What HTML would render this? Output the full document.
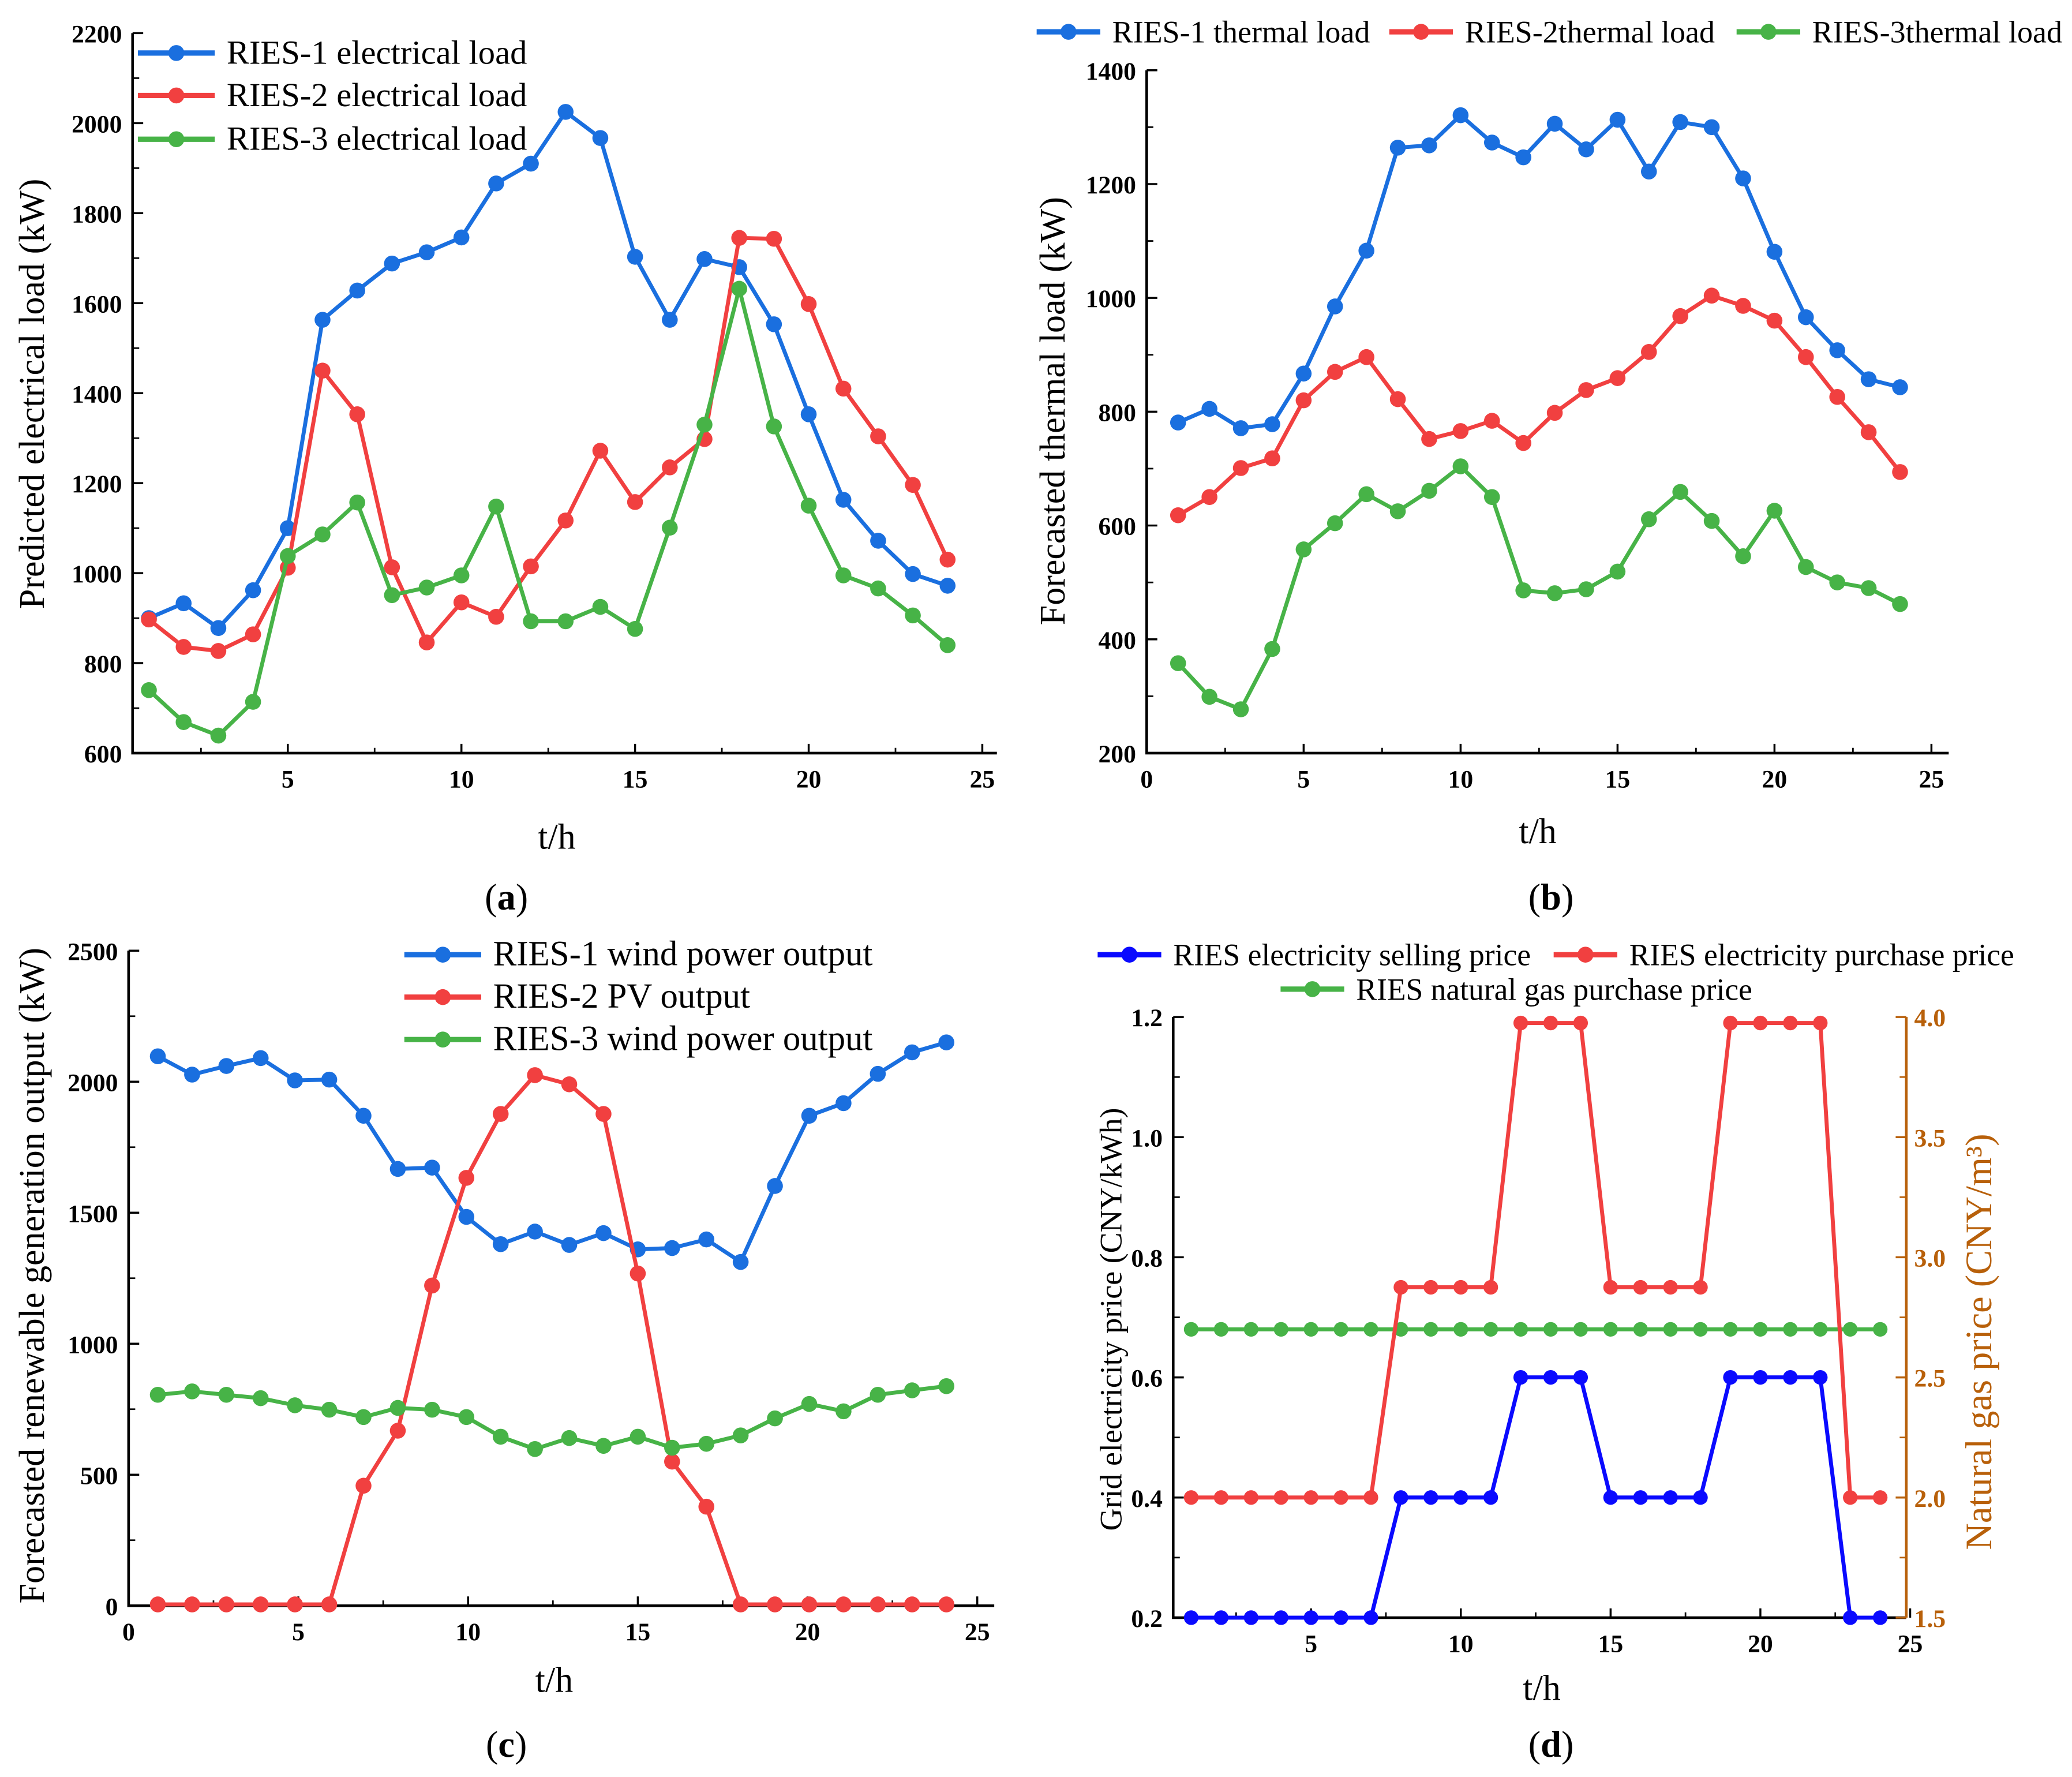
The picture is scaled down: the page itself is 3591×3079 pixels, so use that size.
<!DOCTYPE html>
<html><head><meta charset="utf-8"><style>
html,body{margin:0;padding:0;background:#fff}
svg,svg text{font-family:"Liberation Serif","DejaVu Serif","Times New Roman",serif}
.tk{font-weight:bold;font-size:19px}
.lab{font-size:27px}
.cap{font-size:28px}
</style></head><body>
<svg id="fig" width="3591" height="3074" viewBox="0 0 1563 1338" xmlns="http://www.w3.org/2000/svg" font-family="Liberation Serif, DejaVu Serif, serif">
<g id="root"></g>
</svg>
<script>
const hours=[1,2,3,4,5,6,7,8,9,10,11,12,13,14,15,16,17,18,19,20,21,22,23,24];
const elecR1=[900,933,878,962,1100,1563,1628,1688,1713,1746,1866,1910,2025,1967,1703,1563,1698,1680,1553,1353,1163,1072,998,972];
const elecR2=[897,836,827,864,1012,1450,1353,1013,846,935,903,1015,1117,1272,1158,1235,1298,1745,1743,1598,1410,1304,1196,1030];
const elecR3=[740,669,639,714,1038,1086,1157,951,968,995,1148,893,893,925,876,1101,1330,1632,1326,1150,995,966,906,840];
const thermR1=[781,805,771,778,867,985,1083,1264,1268,1321,1273,1247,1306,1261,1313,1222,1309,1300,1210,1081,966,908,857,843];
const thermR2=[618,650,701,718,820,870,896,822,752,766,784,745,798,838,859,905,968,1004,986,960,896,826,764,694];
const thermR3=[358,299,277,383,558,604,655,625,661,704,650,486,481,488,519,611,659,608,546,626,527,500,490,462];
const hoursC=[0.86,1.87,2.88,3.89,4.9,5.91,6.92,7.93,8.94,9.95,10.96,11.97,12.98,13.99,15,16.01,17.02,18.03,19.04,20.05,21.06,22.07,23.08,24.09];
const windR1=[2097,2027,2060,2090,2005,2008,1870,1667,1672,1484,1380,1428,1377,1422,1360,1365,1398,1312,1602,1870,1918,2030,2112,2150];
const pvR2=[5,5,5,5,5,5,458,668,1222,1633,1877,2025,1990,1877,1268,550,378,5,5,5,5,5,5,5];
const windR3=[805,818,805,792,765,748,720,755,748,720,645,598,640,610,645,603,618,650,715,770,742,805,822,838];
const sellPrice=[0.2,0.2,0.2,0.2,0.2,0.2,0.2,0.4,0.4,0.4,0.4,0.6,0.6,0.6,0.4,0.4,0.4,0.4,0.6,0.6,0.6,0.6,0.2,0.2];
const buyPrice=[0.4,0.4,0.4,0.4,0.4,0.4,0.4,0.75,0.75,0.75,0.75,1.19,1.19,1.19,0.75,0.75,0.75,0.75,1.19,1.19,1.19,1.19,0.4,0.4];
const gasPrice=[2.7,2.7,2.7,2.7,2.7,2.7,2.7,2.7,2.7,2.7,2.7,2.7,2.7,2.7,2.7,2.7,2.7,2.7,2.7,2.7,2.7,2.7,2.7,2.7];
const xTicksA=[5,10,15,20,25];
const xTicks0=[0,5,10,15,20,25];
const yTicksA=[600,800,1000,1200,1400,1600,1800,2000,2200];
const yTicksB=[200,400,600,800,1000,1200,1400];
const yTicksC=[0,500,1000,1500,2000,2500];
const yTicksD=[0.2,0.4,0.6,0.8,1.0,1.2];
const yTicksDR=[1.5,2.0,2.5,3.0,3.5,4.0];

const NS="http://www.w3.org/2000/svg";
const root=document.getElementById('root');
const FF="Liberation Serif, DejaVu Serif, serif";
function mk(tag,attrs,parent){const e=document.createElementNS(NS,tag);for(const k in attrs)e.setAttribute(k,attrs[k]);(parent||root).appendChild(e);return e;}
function txt(s,attrs,parent){attrs['font-family']=FF;const e=mk('text',attrs,parent);e.textContent=s;return e;}
const BLUE='#1a6fdf',RED='#f14040',GREEN='#47b347',DBLUE='#0a0aff',ORANGE='#b8600a';

function panel(name,box,xd,yd,xticks,yticks,minorX,minorY,fmt){
  const g=mk('g',{});
  
  
  const sx=v=>box.l+(v-xd[0])/(xd[1]-xd[0])*(box.r-box.l);
  const sy=v=>box.b-(v-yd[0])/(yd[1]-yd[0])*(box.b-box.t);
  const ax=mk('path',{d:`M${box.l},${box.t}V${box.b}H${box.r}`,fill:'none',stroke:'#000','stroke-width':2},g);
  
  
  xticks.forEach(v=>{const x=sx(v);mk('line',{x1:x,x2:x,y1:box.b,y2:box.b-7,stroke:'#000','stroke-width':1.5},g);
    const t=txt(String(v),{x:x,y:box.b+26,'text-anchor':'middle',class:'tk'},g);
    
    });
  minorX.forEach(v=>{const x=sx(v);mk('line',{x1:x,x2:x,y1:box.b,y2:box.b-4,stroke:'#000','stroke-width':1.2},g);});
  yticks.forEach(v=>{const y=sy(v);mk('line',{x1:box.l,x2:box.l+8,y1:y,y2:y,stroke:'#000','stroke-width':1.5},g);
    const t=txt(fmt?v.toFixed(1):String(v),{x:box.l-8,y:y+7,'text-anchor':'end',class:'tk'},g);
    
    });
  minorY.forEach(v=>{const y=sy(v);mk('line',{x1:box.l,x2:box.l+5,y1:y,y2:y,stroke:'#000','stroke-width':1.2},g);});
  return {g,sx,sy};
}
function series(p,xs,ys,color,name,r,sw,syf){
  const s=syf||p.sy;
  const pts=xs.map((x,i)=>p.sx(x)+','+s(ys[i])).join(' ');
  const l=mk('polyline',{points:pts,fill:'none',stroke:color,'stroke-width':sw||3,'stroke-linejoin':'round'},p.g);
  
  
  xs.forEach((x,i)=>{const c=mk('circle',{cx:p.sx(x),cy:s(ys[i]),r:r||6,fill:color},p.g);
    
    });
}
function legend(x,y,color,label,name,w,fs){
  const g=mk('g',{});
  
  
  w=w||58;
  mk('line',{x1:x,x2:x+w,y1:y,y2:y,stroke:color,'stroke-width':4},g);
  mk('circle',{cx:x+w/2,cy:y,r:6,fill:color},g);
  txt(label,{x:x+w+9,y:y+8,'font-size':fs},g);
}
function cap(letter,x,y){
  const t=txt('',{x:x,y:y,'text-anchor':'middle',class:'cap'});
  
  
  const a=mk('tspan',{},t);a.textContent='(';
  const b=mk('tspan',{'font-weight':'bold'},t);b.textContent=letter;
  const c=mk('tspan',{},t);c.textContent=')';
}
function range(a,b,s){const r=[];for(let v=a;v<=b+1e-9;v+=s)r.push(+v.toFixed(4));return r;}

// Panel a
const pa=panel('panel-a',{l:100,r:752,t:25,b:568},[0.53,25.42],[600,2200],xTicksA,yTicksA,range(2.5,22.5,5),range(700,2100,200));
series(pa,hours,elecR1,BLUE,'ries1-electrical');
series(pa,hours,elecR2,RED,'ries2-electrical');
series(pa,hours,elecR3,GREEN,'ries3-electrical');
legend(104,40,BLUE,'RIES-1 electrical load','legend-ries1-electrical',58,25.5);
legend(104,72,RED,'RIES-2 electrical load','legend-ries2-electrical',58,25.5);
legend(104,105,GREEN,'RIES-3 electrical load','legend-ries3-electrical',58,25.5);
txt('Predicted electrical load (kW)',{transform:'translate(33,297) rotate(-90)','text-anchor':'middle',class:'lab'});
txt('t/h',{x:420,y:640,'text-anchor':'middle',class:'lab'});
cap('a',382,686);

// Panel b
const pb=panel('panel-b',{l:865,r:1470,t:53,b:568},[0,25.55],[200,1400],xTicks0,yTicksB,range(2.5,22.5,5),range(300,1300,200));
series(pb,hours,thermR1,BLUE,'ries1-thermal');
series(pb,hours,thermR2,RED,'ries2-thermal');
series(pb,hours,thermR3,GREEN,'ries3-thermal');
legend(782,24,BLUE,'RIES-1 thermal load','legend-ries1-thermal',48,23.5);
legend(1048,24,RED,'RIES-2thermal load','legend-ries2-thermal',48,23.5);
legend(1310,24,GREEN,'RIES-3thermal load','legend-ries3-thermal',48,23.5);
txt('Forecasted thermal load (kW)',{transform:'translate(803,310) rotate(-90)','text-anchor':'middle',class:'lab'});
txt('t/h',{x:1160,y:636,'text-anchor':'middle',class:'lab'});
cap('b',1170,686);

// Panel c
const pc=panel('panel-c',{l:97,r:750,t:717,b:1211},[0,25.5],[0,2500],xTicks0,yTicksC,range(2.5,22.5,5),range(250,2250,500));
series(pc,hoursC,windR1,BLUE,'ries1-wind');
series(pc,hoursC,pvR2,RED,'ries2-pv');
series(pc,hoursC,windR3,GREEN,'ries3-wind');
legend(305,720,BLUE,'RIES-1 wind power output','legend-ries1-wind',58,26.5);
legend(305,752,RED,'RIES-2 PV output','legend-ries2-pv',58,26.5);
legend(305,784,GREEN,'RIES-3 wind power output','legend-ries3-wind',58,26.5);
txt('Forecasted renewable generation output (kW)',{transform:'translate(33,962) rotate(-90)','text-anchor':'middle',class:'lab'});
txt('t/h',{x:418,y:1276,'text-anchor':'middle',class:'lab'});
cap('c',382,1325);

// Panel d
const pd=panel('panel-d',{l:885,r:1438,t:767,b:1220},[0.4,24.87],[0.2,1.2],xTicksA,yTicksD,range(2.5,22.5,5),range(0.3,1.1,0.2),true);
const syR=v=>1220-(v-1.5)/2.5*453;
mk('line',{x1:1438,x2:1438,y1:767,y2:1220,stroke:ORANGE,'stroke-width':2},pd.g);
yTicksDR.forEach(v=>{const y=syR(v);mk('line',{x1:1430,x2:1438,y1:y,y2:y,stroke:ORANGE,'stroke-width':1.5},pd.g);
  const t=txt(v.toFixed(1),{x:1444,y:y+7,class:'tk',fill:ORANGE},pd.g);
  
  });
range(1.75,3.75,0.5).forEach(v=>{const y=syR(v);mk('line',{x1:1433,x2:1438,y1:y,y2:y,stroke:ORANGE,'stroke-width':1.2},pd.g);});
series(pd,hours,gasPrice,GREEN,'gas-price',5.5,3,syR);
series(pd,hours,buyPrice,RED,'purchase-price',5.5,3);
series(pd,hours,sellPrice,DBLUE,'selling-price',5.5,3);
legend(828,720,DBLUE,'RIES electricity selling price','legend-selling-price',48,23.3);
legend(1172,720,RED,'RIES electricity purchase price','legend-purchase-price',48,23.3);
legend(966,746,GREEN,'RIES natural gas purchase price','legend-gas-price',48,23.3);
txt('Grid electricity price (CNY/kWh)',{transform:'translate(846,995) rotate(-90)','text-anchor':'middle','font-size':23.5});
txt('Natural gas price (CNY/m³)',{transform:'translate(1502,1012) rotate(-90)','text-anchor':'middle','font-size':28,fill:ORANGE});
txt('t/h',{x:1163,y:1282,'text-anchor':'middle',class:'lab'});
cap('d',1170,1325);
</script>
</body></html>
